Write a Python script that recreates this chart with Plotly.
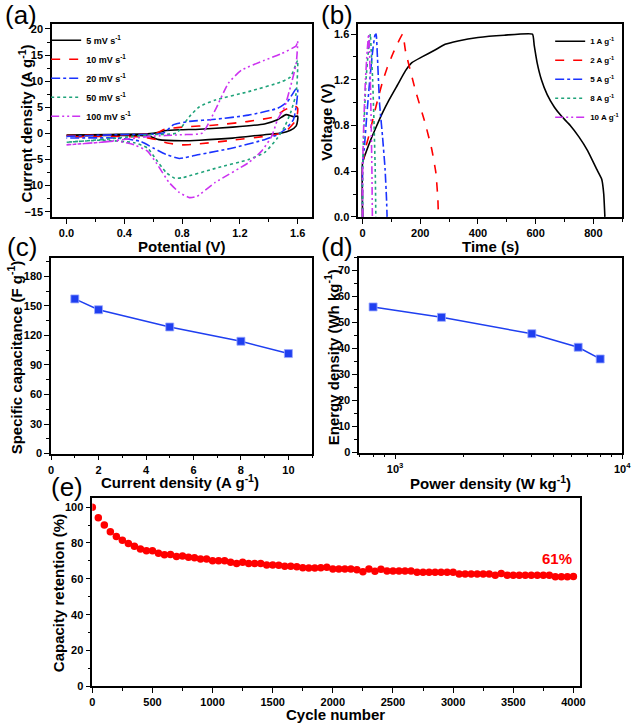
import plotly.graph_objects as go

W, H = 642, 727
FONT = "Liberation Sans, Arial, sans-serif"

# ---------------- (a) CV curves ----------------
cv_v_5 = [0, 0.3, 0.56, 0.64, 0.69, 0.8, 0.92, 1.15, 1.37, 1.46, 1.52, 1.57, 1.6, 1.6, 1.59, 1.55, 1.49, 1.37, 1.15, 0.92, 0.8, 0.64, 0.58, 0.51, 0.25, 0]
cv_j_5 = [-0.3, -0.2, -0.1, 0.2, 0.55, 0.7, 0.8, 1.2, 1.8, 2.6, 3.6, 3.2, 3.3, 2.6, 1.45, 0.6, 0.06, -0.25, -0.9, -1.3, -1.4, -1.2, -0.6, -0.4, -0.4, -0.45]

cv_v_10 = [0, 0.3, 0.62, 0.68, 0.8, 1.03, 1.26, 1.44, 1.51, 1.58, 1.6, 1.59, 1.53, 1.49, 1.37, 1.15, 0.92, 0.8, 0.69, 0.62, 0.53, 0.24, 0]
cv_j_10 = [-0.4, -0.35, 0.0, 0.8, 1.2, 1.6, 2.3, 3.2, 4.5, 5.3, 4.8, 2.6, 0.7, 0.06, -0.57, -1.3, -2.0, -2.2, -1.8, -1.2, -0.7, -0.57, -0.7]

cv_v_20 = [0, 0.35, 0.67, 0.74, 0.85, 1.03, 1.26, 1.46, 1.53, 1.59, 1.6, 1.59, 1.57, 1.51, 1.46, 1.37, 1.15, 0.92, 0.78, 0.69, 0.6, 0.51, 0.35, 0]
cv_j_20 = [-0.57, -0.25, 0.06, 1.65, 2.3, 2.7, 3.5, 4.8, 6.1, 8.6, 8.6, 5.2, 2.6, 0.7, -0.25, -1.2, -2.8, -4.05, -4.8, -4.05, -2.8, -1.5, -0.9, -0.9]

cv_v_50 = [0, 0.24, 0.58, 0.76, 0.85, 0.92, 1.03, 1.26, 1.49, 1.55, 1.59, 1.6, 1.59, 1.55, 1.51, 1.46, 1.37, 1.26, 1.03, 0.8, 0.75, 0.69, 0.62, 0.56, 0.47, 0.24, 0]
cv_j_50 = [-1.7, -1.2, -0.25, 0.06, 3.2, 5.1, 6.4, 8.0, 9.9, 10.8, 13.4, 14.0, 7.7, 3.9, 1.3, -0.9, -3.7, -5.0, -6.7, -8.5, -8.6, -7.5, -5.0, -2.8, -1.8, -1.3, -1.7]

cv_v_100 = [0, 0.24, 0.58, 0.8, 0.94, 1.03, 1.12, 1.21, 1.37, 1.49, 1.59, 1.6, 1.59, 1.55, 1.51, 1.46, 1.42, 1.35, 1.26, 1.03, 0.9, 0.85, 0.78, 0.71, 0.62, 0.56, 0.47, 0.35, 0.24, 0]
cv_j_100 = [-2.2, -1.7, -0.57, -0.25, 0.06, 4.5, 9.6, 12.1, 14.0, 15.3, 16.8, 17.7, 13.4, 8.9, 5.1, 2.6, -0.57, -3.4, -5.6, -9.4, -12.1, -12.3, -11.3, -9.4, -5.6, -3.4, -2.2, -1.5, -1.7, -2.2]

cv_labels = ["5 mV s<sup>-1</sup>", "10 mV s<sup>-1</sup>", "20 mV s<sup>-1</sup>",
             "50 mV s<sup>-1</sup>", "100 mV s<sup>-1</sup>"]

# ---------------- (b) GCD curves ----------------
gcd_t_1 = [0, 0, 11, 29, 46, 69, 91, 120, 149, 171, 206, 251, 286, 331, 400, 491, 589, 595, 605, 620, 640, 665, 690, 720, 750, 780, 811, 829, 836, 840]
gcd_v_1 = [0, 0.476, 0.56, 0.68, 0.78, 0.91, 1.02, 1.15, 1.28, 1.35, 1.40, 1.46, 1.51, 1.54, 1.57, 1.59, 1.6, 1.5, 1.35, 1.2, 1.07, 0.96, 0.88, 0.8, 0.7, 0.58, 0.42, 0.33, 0.2, 0]

gcd_t_2 = [0, 0, 10, 23, 40, 55, 69, 86, 109, 139, 149, 183, 217, 240, 254, 261, 263]
gcd_v_2 = [0, 0.45, 0.6, 0.72, 0.9, 1.05, 1.18, 1.31, 1.45, 1.6, 1.45, 1.11, 0.82, 0.59, 0.39, 0.16, 0]

gcd_t_5 = [0, 0, 6, 15, 23, 34, 43, 47, 51, 59, 69, 78, 83, 85]
gcd_v_5 = [0, 0.45, 0.6, 0.9, 1.14, 1.43, 1.59, 1.6, 1.43, 0.99, 0.71, 0.42, 0.16, 0]

gcd_t_8 = [0, 0, 5, 12, 20, 27, 30, 35, 40, 44, 46]
gcd_v_8 = [0, 0.4, 0.8, 1.2, 1.45, 1.6, 1.45, 1.2, 0.8, 0.4, 0]

gcd_t_10 = [0, 0, 4, 10, 16, 21, 24, 27, 30, 32.5, 34]
gcd_v_10 = [0, 0.4, 0.8, 1.2, 1.45, 1.6, 1.45, 1.2, 0.8, 0.4, 0]

gcd_labels = ["1 A g<sup>-1</sup>", "2 A g<sup>-1</sup>", "5 A g<sup>-1</sup>",
              "8 A g<sup>-1</sup>", "10 A g<sup>-1</sup>"]

# ---------------- (c) specific capacitance ----------------
current_density = [1, 2, 5, 8, 10]
capacitance = [157, 146, 128.5, 114, 101.5]

# ---------------- (d) Ragone ----------------
power_density = [800, 1600, 4000, 6400, 8000]
energy_density = [56, 52, 45.7, 40.5, 36]

# ---------------- (e) cycling ----------------
cycles = list(range(0, 4001, 50))
retention = [100, 94.1, 90, 86.2, 83.6, 81.5, 79.7, 78.2, 76.6, 75.6, 75.6, 74.2, 73.4, 73.6, 72.5, 72.7,
             72.0, 71.8, 71.0, 71.0, 70.1, 70.1, 70.1, 69.2, 68.5, 69.2, 68.5, 68.5, 68.5, 67.7, 67.7, 67.5,
             67.0, 67.0, 66.8, 66.2, 66.1, 66.1,
             66.2, 66.4, 65.5, 65.5, 65.5, 65.5, 65.1, 64.0, 65.5, 64.2, 65.3, 64.4, 64.4, 64.4, 64.4, 64.4,
             63.7, 63.7, 63.7, 63.7, 63.7, 63.7, 63.7, 62.7, 62.7, 62.7, 62.7, 62.7, 62.7, 62.0, 62.9, 62.0,
             62.0, 62.0, 62.0, 62.0, 62.0, 62.0, 62.0, 61.1, 61.1, 61.1, 61.3]

colors = ["#000000", "#FF0000", "#1A33FF", "#1FA37A", "#CC33F0"]
dashes = ["solid", "dash", "dashdot", "dot", "8px,3px,2px,3px,2px,3px"]

fig = go.Figure()

cv_v = [cv_v_5, cv_v_10, cv_v_20, cv_v_50, cv_v_100]
cv_j = [cv_j_5, cv_j_10, cv_j_20, cv_j_50, cv_j_100]
for i in range(5):
    fig.add_trace(go.Scatter(x=cv_v[i], y=cv_j[i], mode="lines", name=cv_labels[i],
                             line=dict(color=colors[i], width=1.6, dash=dashes[i], shape="spline", smoothing=0.5),
                             xaxis="x", yaxis="y", legend="legend"))

gt = [gcd_t_1, gcd_t_2, gcd_t_5, gcd_t_8, gcd_t_10]
gv = [gcd_v_1, gcd_v_2, gcd_v_5, gcd_v_8, gcd_v_10]
for i in range(5):
    fig.add_trace(go.Scatter(x=gt[i], y=gv[i], mode="lines", name=gcd_labels[i],
                             line=dict(color=colors[i], width=1.6, dash=dashes[i], shape="spline", smoothing=0.4),
                             xaxis="x2", yaxis="y2", legend="legend2"))

blue = "#1F3FF0"
fig.add_trace(go.Scatter(x=current_density, y=capacitance, mode="lines+markers", showlegend=False,
                         line=dict(color=blue, width=1.5),
                         marker=dict(symbol="square", size=8, color=blue, line=dict(color="#9AA8FF", width=0.8)),
                         xaxis="x3", yaxis="y3"))
fig.add_trace(go.Scatter(x=power_density, y=energy_density, mode="lines+markers", showlegend=False,
                         line=dict(color=blue, width=1.5),
                         marker=dict(symbol="square", size=8, color=blue, line=dict(color="#9AA8FF", width=0.8)),
                         xaxis="x4", yaxis="y4"))
fig.add_trace(go.Scatter(x=cycles, y=retention, mode="markers", showlegend=False,
                         marker=dict(symbol="circle", size=7.5, color="#FF0000"),
                         xaxis="x5", yaxis="y5"))

tickfont = dict(family=FONT, size=11, color="black", weight="bold")
titlefont = dict(family=FONT, size=15, color="black", weight="bold")


def ax(domain, rng, dtick, minor_dtick, anchor, fmt=None, **kw):
    d = dict(domain=domain, range=rng, dtick=dtick, tick0=0, anchor=anchor,
             showline=True, linecolor="black", linewidth=1.5, mirror=True,
             ticks="outside", ticklen=5, tickwidth=1.2, tickcolor="black",
             minor=dict(dtick=minor_dtick, ticks="outside", ticklen=3, tickwidth=1, tickcolor="black"),
             showgrid=False, zeroline=False, tickfont=tickfont)
    if fmt:
        d["tickformat"] = fmt
    d.update(kw)
    return d


def px(v):
    return v / W


def py(v):
    return 1 - v / H


layout = dict(
    width=W, height=H, margin=dict(l=0, r=0, t=0, b=0),
    paper_bgcolor="white", plot_bgcolor="white", font=dict(family=FONT, color="black"),
    xaxis=ax([px(50), px(315)], [-0.1, 1.7], 0.4, 0.2, "y", ".1f"),
    yaxis=ax([py(218), py(23)], [-16, 21], 5, 2.5, "x"),
    xaxis2=ax([px(362), px(631)], [-15, 900], 200, 100, "y2"),
    yaxis2=ax([py(218), py(23)], [0, 1.69], 0.4, 0.2, "x2", ".1f"),
    xaxis3=ax([px(49), px(315)], [0, 11], 2, 1, "y3"),
    yaxis3=ax([py(457), py(259)], [0, 199], 30, 15, "x3"),
    xaxis4=ax([px(363), px(631)], [2.842, 4.0], None, None, "y4", type="log"),
    yaxis4=ax([py(456), py(259)], [0, 75], 10, 5, "x4"),
    xaxis5=ax([px(91), px(588)], [0, 4055], 500, 250, "y5"),
    yaxis5=ax([py(692), py(502)], [0, 105], 20, 10, "x5"),
    legend=dict(x=px(44), y=py(25), xanchor="left", yanchor="top", bgcolor="rgba(0,0,0,0)",
                font=dict(family=FONT, size=9, color="black", weight="bold"), itemwidth=30,
                tracegroupgap=0),
    legend2=dict(x=px(633), y=py(26), xanchor="right", yanchor="top", bgcolor="rgba(0,0,0,0)",
                 font=dict(family=FONT, size=8, color="black", weight="bold"), itemwidth=30,
                 tracegroupgap=0),
)
layout["xaxis4"].update(dict(tickmode="array", tickvals=[1000, 10000],
                             ticktext=["10<sup>3</sup>", "10<sup>4</sup>"],
                             minor=dict(tickmode="array",
                                        tickvals=[700, 800, 900, 2000, 3000, 4000, 5000, 6000, 7000, 8000, 9000],
                                        ticks="outside", ticklen=3, tickwidth=1, tickcolor="black")))
layout["xaxis4"].pop("dtick", None)
layout["xaxis4"].pop("tick0", None)
fig.update_layout(**layout)

panel_font = dict(family=FONT, size=26, color="black")
for lab, x0, y0 in [("(a)", 0, 14), ("(b)", 322, 14), ("(c)", 2, 248), ("(d)", 322, 248), ("(e)", 47, 491)]:
    fig.add_annotation(text=lab, x=px(x0), y=py(y0), xref="paper", yref="paper",
                       xanchor="left", yanchor="middle", showarrow=False, font=panel_font)

# axis titles
axis_titles = [
    ("Potential (V)", 182, 248, 0),
    ("Current density (A g<sup>-1</sup>)", 23, 124, -90),
    ("Time (s)", 497, 248, 0),
    ("Voltage (V)", 330, 122, -90),
    ("Current density (A g<sup>-1</sup>)", 180, 485, 0),
    ("Specific capacitance (F g<sup>-1</sup>)", 12, 360, -90),
    ("Power density (W kg<sup>-1</sup>)", 497, 486, 0),
    ("Energy density (Wh kg<sup>-1</sup>)", 335, 360, -90),
    ("Cycle number", 339, 720, 0),
    ("Capacity retention (%)", 56, 598, -90),
]
for txt, x0, y0, ang in axis_titles:
    fig.add_annotation(text=txt, x=px(x0), y=py(y0), xref="paper", yref="paper",
                       xanchor="center", yanchor="middle", showarrow=False, textangle=ang,
                       font=titlefont)

fig.add_annotation(text="61%", x=3861, y=71.4, xref="x5", yref="y5", showarrow=False,
                   font=dict(family=FONT, size=15, color="#FF0000", weight="bold"))

fig.write_html("out.html", config={"displayModeBar": False},
               post_script="document.body.style.margin='0px';")
